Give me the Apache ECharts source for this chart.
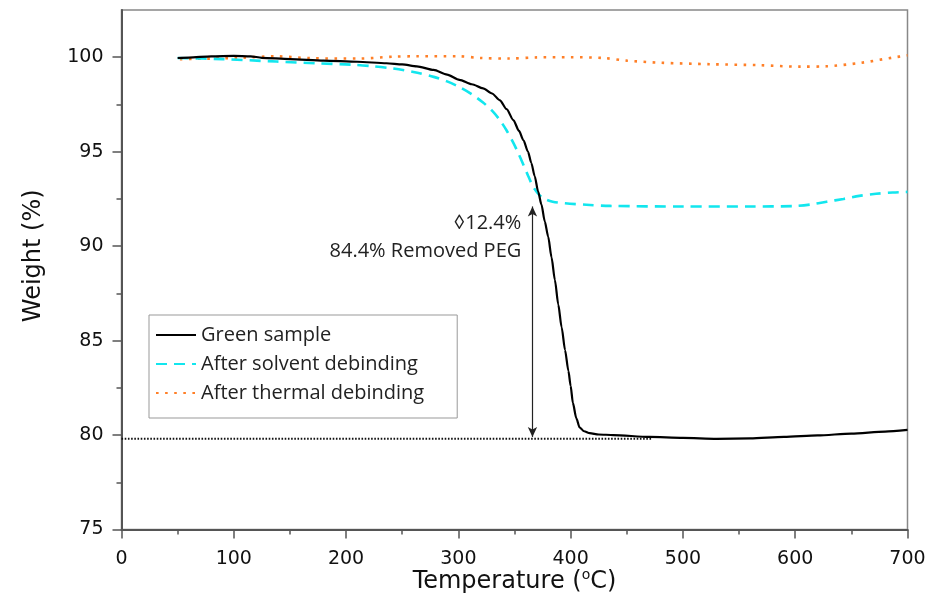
<!DOCTYPE html>
<html>
<head>
<meta charset="utf-8">
<script src="https://cdn.jsdelivr.net/npm/echarts@6/dist/echarts.min.js"></script>
<style>
html,body{margin:0;padding:0;background:#fff;}
#chart{width:934px;height:597px;}
</style>
</head>
<body>
<div id="chart"></div>
<script>
// ---- Data (Temperature °C, Weight %) ----
const greenSample = [
  [50,99.96],[60,99.98],[80,100.05],[100,100.07],[115,100.05],[125,99.97],[150,99.9],
  [180,99.82],[210,99.76],[236,99.68],[250,99.62],[263,99.52],[278,99.33],[290,99.08],
  [301,98.8],[312,98.57],[322,98.35],[330,98.08],[337,97.72],[343,97.25],[349,96.67],
  [354,96.1],[358,95.6],[362,95.0],[365,94.4],[368,93.7],[371,92.9],[374,92.2],
  [377,91.3],[380,90.5],[383,89.4],[386,88.2],[389,86.9],[392,85.7],[395,84.5],
  [398,83.4],[400,82.6],[402,81.7],[405,80.9],[408,80.4],[412,80.2],[417,80.1],
  [425,80.03],[438,80.0],[470,79.9],[500,79.85],[530,79.8],[560,79.82],[590,79.9],
  [620,79.98],[650,80.08],[680,80.18],[700,80.27]
];
const solventDebinding = [
  [50,99.96],[90,99.9],[138,99.77],[174,99.68],[206,99.6],[224,99.52],[242,99.4],
  [260,99.22],[278,98.96],[290,98.72],[301,98.42],[312,98.04],[322,97.6],[330,97.17],
  [337,96.67],[343,96.12],[349,95.47],[353,94.97],[358,94.3],[362,93.74],[365,93.34],
  [368,93.02],[371,92.78],[376,92.52],[384,92.35],[395,92.27],[414,92.19],[435,92.13],
  [500,92.1],[560,92.1],[598,92.12],[613,92.2],[628,92.35],[643,92.5],[657,92.66],
  [672,92.77],[687,92.84],[700,92.87]
];
const thermalDebinding = [
  [52,99.9],[80,99.93],[108,99.98],[138,100.05],[168,99.95],[212,99.93],[242,100.03],
  [263,100.05],[300,100.05],[320,99.96],[345,99.93],[370,99.99],[400,100.0],[429,99.96],
  [450,99.82],[480,99.71],[524,99.63],[568,99.58],[604,99.5],[628,99.52],[658,99.7],
  [687,99.98],[700,100.1]
];
const residualLine = [[0,79.8],[473,79.8]];
const arrowX = 366, arrowTop = 92.1, arrowBottom = 79.9;
const annotationText = '\u25CA12.4%\n84.4% Removed PEG';
const annotationAt = [360.5, 90.48];
const xTicks = [0,100,200,300,400,500,600,700];
const yTicks = [75,80,85,90,95,100];
const yMinorTicks = [77.5,82.5,87.5,92.5,97.5];
const seriesNames = ['Green sample','After solvent debinding','After thermal debinding'];

const tickFont = {fontFamily:'DejaVu Sans', fontSize:19, color:'#111'};
const chart = echarts.init(document.getElementById('chart'), null, {renderer:'canvas'});
chart.setOption({
  animation:false,
  backgroundColor:'#fff',
  grid:{left:121.5, right:26.5, top:10, bottom:67.5, containLabel:false, outerBoundsMode:'none',
        show:true, borderColor:'#888', borderWidth:1.5},
  legend:{
    orient:'vertical', left:149, top:315,
    data:seriesNames,
    itemWidth:40, itemHeight:14, itemGap:9,
    padding:[10,33,15,6],
    borderColor:'#999', borderWidth:1, backgroundColor:'#fff',
    itemStyle:{opacity:0},
    textStyle:{fontFamily:'Open Sans', fontSize:20, color:'#222'}
  },
  xAxis:{
    type:'value', min:0, max:700, interval:100,
    name:'Temperature ({s|o}C)', nameLocation:'middle', nameGap:39, nameMoveOverlap:false,
    nameTextStyle:{fontFamily:'DejaVu Sans', fontSize:24, color:'#111', lineHeight:26,
      rich:{s:{fontFamily:'DejaVu Sans', fontSize:14, color:'#111', verticalAlign:'top', lineHeight:26}}},
    axisLine:{show:true, onZero:false, lineStyle:{color:'#555', width:2}},
    axisTick:{show:true, inside:false, length:9, lineStyle:{color:'#555', width:1.5}, customValues:xTicks},
    minorTick:{show:true, splitNumber:2, length:5, lineStyle:{color:'#555', width:1.5}},
    axisLabel:Object.assign({margin:20, customValues:xTicks}, tickFont),
    splitLine:{show:false}, minorSplitLine:{show:false}
  },
  yAxis:[{
    type:'value', min:75, max:102.5, interval:5,
    name:'Weight (%)', nameLocation:'middle', nameGap:76, nameMoveOverlap:false,
    nameTextStyle:{fontFamily:'DejaVu Sans', fontSize:24, color:'#111', padding:[0,0,0,28]},
    axisLine:{show:true, onZero:false, lineStyle:{color:'#555', width:2}},
    axisTick:{show:true, inside:false, length:9, lineStyle:{color:'#555', width:1.5}, customValues:yTicks},
    axisLabel:Object.assign({margin:18, customValues:yTicks}, tickFont),
    splitLine:{show:false}
  },{
    type:'value', min:75, max:102.5, position:'left',
    axisLine:{show:false},
    axisTick:{show:true, inside:false, length:5, lineStyle:{color:'#555', width:1.5}, customValues:yMinorTicks},
    axisLabel:{show:false},
    splitLine:{show:false}
  }],
  series:[
    {
      name:seriesNames[0], type:'line', data:greenSample, showSymbol:false, symbol:'none',
      smooth:0.25, smoothMonotone:'x', z:5,
      lineStyle:{color:'#000', width:2.2}, itemStyle:{color:'#000'}
    },
    {
      name:seriesNames[1], type:'line', data:solventDebinding, showSymbol:false, symbol:'none',
      smooth:0.3, z:4,
      lineStyle:{color:'#12e6ee', width:2.6, type:[11,7]}, itemStyle:{color:'#12e6ee'}
    },
    {
      name:seriesNames[2], type:'line', data:thermalDebinding, showSymbol:false, symbol:'none',
      smooth:0.3, z:3,
      lineStyle:{color:'#ff7f27', width:2.6, type:[2.6,6.5]}, itemStyle:{color:'#ff7f27'}
    },
    {
      name:'residual', type:'line', data:residualLine, showSymbol:false, symbol:'none', silent:true, z:2,
      lineStyle:{color:'#111', width:2, type:[1.6,1.6]},
      markLine:{
        silent:true, symbol:['arrow','arrow'], symbolSize:[7,10], animation:false,
        label:{show:false},
        lineStyle:{color:'#222', width:1.2, type:'solid'},
        data:[[{coord:[arrowX, arrowTop]},{coord:[arrowX, arrowBottom]}]]
      },
      markPoint:{
        silent:true, symbol:'circle', symbolSize:0,
        data:[{coord:annotationAt}],
        label:{show:true, position:'left', distance:5, formatter:annotationText,
          fontFamily:'Open Sans', fontSize:20, color:'#222', lineHeight:28, align:'right'}
      }
    }
  ]
});
</script>
</body>
</html>
